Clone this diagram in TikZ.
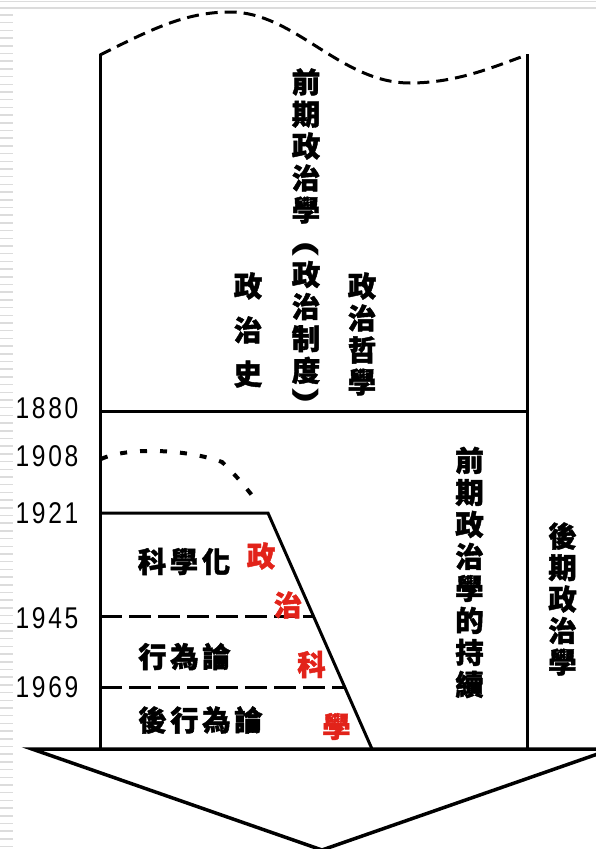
\documentclass[tikz,border=0pt]{standalone}
\usepackage{fontspec}
\newfontfamily\cjk{Noto Sans CJK TC}[BoldFeatures={FakeBold=1.5}]
\newfontfamily\yr{Liberation Sans}[FakeStretch=0.82, LetterSpace=9]
\newfontfamily\parfont{Liberation Sans}
\definecolor{hred}{HTML}{E2231A}
\definecolor{bggray}{HTML}{DCDCDC}
\tikzset{
  ln/.style={line width=3pt, black},
  col/.style={font=\cjk\bfseries\fontsize{28.5}{#1}\selectfont, align=center, inner sep=0pt},
  col/.default=32,
  row/.style={font=\cjk\bfseries\fontsize{28.5}{32}\selectfont, inner sep=0pt},
  redch/.style={row, text=hred},
  yearlbl/.style={font=\yr\fontsize{30}{30}\selectfont, inner sep=0pt},
  parnode/.style={font=\parfont\bfseries\fontsize{28}{28}\selectfont, inner sep=0pt, rotate=-90},
}
\newcommand{\gp}{\kern3.5pt}
\begin{document}
\begin{tikzpicture}[x=1pt,y=-1pt]
\useasboundingbox (0,0) rectangle (596,849);
\clip (0,0) rectangle (596,849);
% background decoration
\draw[bggray, line width=1pt] (0,1) -- (596,1);
\draw[bggray, line width=2pt] (0,8) -- (596,8);
\foreach \k in {0,...,108} {
  \draw[bggray, line width=1.5pt] (0,15+7.7*\k) -- (13,15+7.7*\k);
}
% wavy dashed top
\draw[ln, dash pattern=on 12pt off 7pt] (100,55) .. controls (150,30) and (185,12) .. (230,12)
  .. controls (295,12) and (340,83) .. (410,83) .. controls (460,83) and (500,64) .. (527,55);
% frame
\draw[ln] (100,54) -- (100,749);
\draw[ln] (527,54) -- (527,749);
\draw[ln] (100,411) -- (527,411);
% dotted curve
\draw[line width=4pt, dash pattern=on 7pt off 13pt] (101,459) .. controls (130,446) and (190,450) .. (222,462)
  .. controls (235,474) and (248,490) .. (258,503);
% political science region
\draw[ln] (100,513) -- (268,513) -- (372,749);
\draw[ln, dash pattern=on 22pt off 7pt] (100,616) -- (313,616);
\draw[ln, dash pattern=on 22pt off 7pt] (100,687) -- (344,687);
% bottom arrow
\draw[ln, line width=3.5pt, line join=miter] (32,749) -- (612,749) -- (322,850) -- cycle;
% years
\node[yearlbl] (y1880) at (47,408) {1880};
\node[yearlbl] (y1908) at (47,456) {1908};
\node[yearlbl] (y1921) at (47,513) {1921};
\node[yearlbl] (y1945) at (47,618) {1945};
\node[yearlbl] (y1969) at (47,687) {1969};
% upper texts
\node[col] (early) at (306,146) {前\\期\\政\\治\\學};
\node[parnode] (pa) at (306,249) {\scalebox{1.6}[1]{(}};
\node[col] (inst) at (306,322.5) {政\\治\\制\\度};
\node[parnode] (pb) at (306,396) {\scalebox{1.6}[1]{)}};
\node[col=44] (hist) at (248,330) {政\\治\\史};
\node[col] (phil) at (362,334) {政\\治\\哲\\學};
% lower texts
\node[col] (cont) at (469.5,572.5) {前\\期\\政\\治\\學\\的\\持\\續};
\node[col=31.5] (late) at (562.5,599) {後\\期\\政\\治\\學};
\node[row] (sci) at (184,561.5) {科\gp 學\gp 化};
\node[row] (beh) at (184.5,656.5) {行\gp 為\gp 論};
\node[row] (post) at (200.5,720) {後\gp 行\gp 為\gp 論};
\node[redch] (r1) at (261,556) {政};
\node[redch] (r2) at (288,605) {治};
\node[redch] (r3) at (311.5,664.5) {科};
\node[redch] (r4) at (336.5,726.5) {學};
\end{tikzpicture}
\end{document}
